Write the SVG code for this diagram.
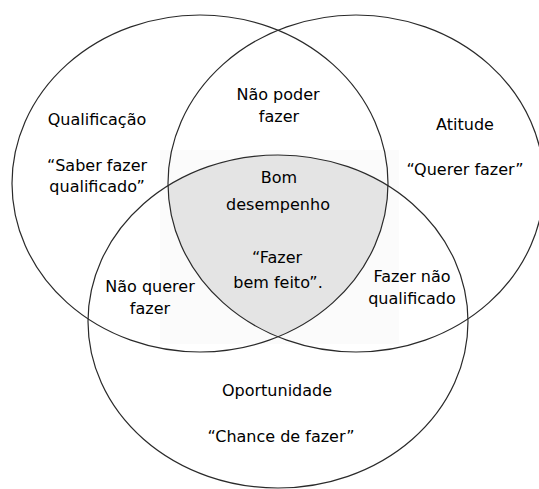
<svg xmlns="http://www.w3.org/2000/svg" width="539" height="489" viewBox="0 0 539 489">
  <style>
    .ring { fill: none; stroke: #2a2a2a; stroke-width: 1.2; }
    .lbl { font-family: "DejaVu Sans", "Liberation Sans", sans-serif; font-size: 16px; fill: #000; text-anchor: middle; }
  </style>
  <defs>
    <clipPath id="clipL"><ellipse cx="200" cy="183.5" rx="188" ry="168.5"/></clipPath>
    <clipPath id="clipR"><ellipse cx="356" cy="183.5" rx="188" ry="168.5"/></clipPath>
  </defs>
  <rect x="0" y="0" width="539" height="489" fill="#ffffff"/>
  <rect x="160" y="150" width="239" height="194" fill="#fbfbfb"/>

  <g id="bom-desempenho">
    <g clip-path="url(#clipL)">
      <g clip-path="url(#clipR)">
        <ellipse cx="278" cy="321.5" rx="190" ry="166.5" fill="#e4e4e4"/>
      </g>
    </g>
    <text class="lbl" x="279" y="183">Bom</text>
    <text class="lbl" x="278" y="210">desempenho</text>
    <text class="lbl" x="277" y="263">“Fazer</text>
    <text class="lbl" x="278" y="288">bem feito”.</text>
  </g>

  <g id="qualificacao">
    <ellipse class="ring" cx="200" cy="183.5" rx="188" ry="168.5"/>
    <text class="lbl" x="97" y="125">Qualificação</text>
    <text class="lbl" x="97" y="171">“Saber fazer</text>
    <text class="lbl" x="97" y="192">qualificado”</text>
  </g>

  <g id="atitude">
    <ellipse class="ring" cx="356" cy="183.5" rx="188" ry="168.5"/>
    <text class="lbl" x="465" y="130">Atitude</text>
    <text class="lbl" x="465" y="175">“Querer fazer”</text>
  </g>

  <g id="oportunidade">
    <ellipse class="ring" cx="278" cy="321.5" rx="190" ry="166.5"/>
    <text class="lbl" x="277" y="396">Oportunidade</text>
    <text class="lbl" x="281" y="442">“Chance de fazer”</text>
  </g>

  <g id="nao-poder-fazer">
    <text class="lbl" x="278" y="100">Não poder</text>
    <text class="lbl" x="279" y="122">fazer</text>
  </g>

  <g id="nao-querer-fazer">
    <text class="lbl" x="150" y="292">Não querer</text>
    <text class="lbl" x="150" y="314">fazer</text>
  </g>

  <g id="fazer-nao-qualificado">
    <text class="lbl" x="412" y="282">Fazer não</text>
    <text class="lbl" x="412" y="304">qualificado</text>
  </g>

  <g id="connectors"></g>
</svg>
